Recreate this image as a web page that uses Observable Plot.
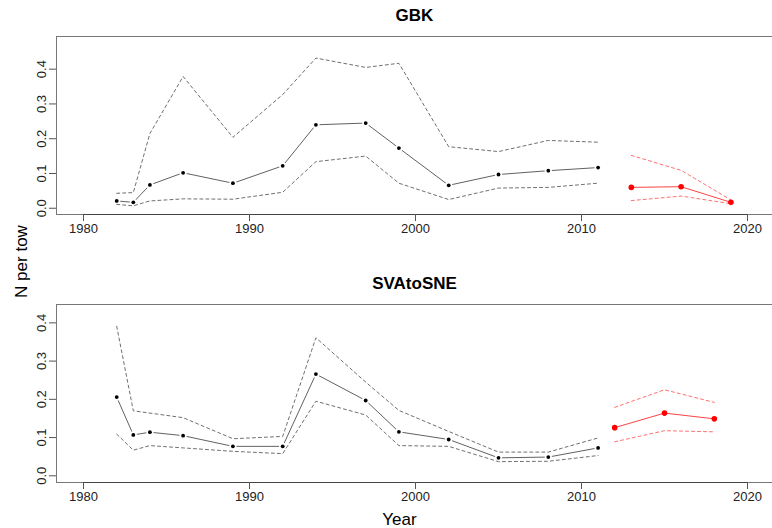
<!DOCTYPE html>
<html>
<head>
<meta charset="utf-8">
<script src="https://cdn.jsdelivr.net/npm/d3@7"></script>
<script src="https://cdn.jsdelivr.net/npm/@observablehq/plot@0.6"></script>
<style>
  html, body { margin: 0; padding: 0; background: #fff; }
  #chart { position: relative; width: 772px; height: 528px; overflow: hidden; }
  #chart svg { display: block; }
</style>
</head>
<body>
<div id="chart"></div>
<script>
// ---- data ----
const panelTitles = ["GBK", "SVAtoSNE"];
const xTicks = [1980, 1990, 2000, 2010, 2020];
const yTicks = [0, 0.1, 0.2, 0.3, 0.4];

const oldYears = [1982, 1983, 1984, 1986, 1989, 1992, 1994, 1997, 1999, 2002, 2005, 2008, 2011];

const gbkMean  = [0.021, 0.017, 0.067, 0.102, 0.072, 0.122, 0.240, 0.245, 0.173, 0.066, 0.097, 0.108, 0.117];
const gbkUpper = [0.043, 0.045, 0.215, 0.379, 0.204, 0.327, 0.432, 0.405, 0.417, 0.177, 0.163, 0.195, 0.190];
const gbkLower = [0.011, 0.007, 0.021, 0.027, 0.026, 0.046, 0.134, 0.150, 0.072, 0.025, 0.058, 0.060, 0.072];
const gbkNewYears = [2013, 2016, 2019];
const gbkNewMean  = [0.060, 0.062, 0.017];
const gbkNewUpper = [0.152, 0.109, 0.024];
const gbkNewLower = [0.022, 0.035, 0.013];

const svaMean  = [0.206, 0.107, 0.114, 0.105, 0.077, 0.077, 0.266, 0.197, 0.115, 0.095, 0.047, 0.049, 0.073];
const svaUpper = [0.391, 0.170, 0.164, 0.152, 0.097, 0.103, 0.361, 0.245, 0.171, 0.116, 0.062, 0.062, 0.099];
const svaLower = [0.109, 0.067, 0.079, 0.073, 0.064, 0.058, 0.195, 0.159, 0.079, 0.077, 0.037, 0.038, 0.053];
const svaNewYears = [2012, 2015, 2018];
const svaNewMean  = [0.126, 0.164, 0.149];
const svaNewUpper = [0.179, 0.225, 0.192];
const svaNewLower = [0.089, 0.118, 0.115];

const table = (years, vals) => years.map((x, i) => ({x, y: vals[i]}));

const FONT = "'Liberation Sans', Arial, Helvetica, sans-serif";
const XDOMAIN = [1978.373, 2021.506];

function panel({title, yDomain, marginTop, marginBottom, mean, upper, lower, nMean, nUpper, nLower, nYears, extra}) {
  const oldMean = table(oldYears, mean);
  const oldUp = table(oldYears, upper);
  const oldLo = table(oldYears, lower);
  const nM = table(nYears, nMean);
  const nU = table(nYears, nUpper);
  const nL = table(nYears, nLower);
  return Plot.plot({
    width: 772,
    height: 264,
    marginLeft: 56,
    marginRight: 0,
    marginTop,
    marginBottom,
    style: {fontFamily: FONT, fontSize: "13px", overflow: "visible", background: "#fff"},
    x: {domain: XDOMAIN},
    y: {domain: yDomain},
    marks: [
      Plot.frame({stroke: "#777", strokeWidth: 1}),
      Plot.ruleY([yDomain[0]], {x1: 1980, x2: 2020, stroke: "#444", strokeWidth: 1}),
      Plot.axisX({ticks: xTicks, tickFormat: d => String(d), tickSize: 7, tickPadding: 2, label: null, stroke: "#555", fill: "#222", fontSize: 13}),
      Plot.axisY({ticks: yTicks, tickSize: 7, tickFormat: () => "", label: null, stroke: "#555"}),
      Plot.text(yTicks, {y: d => d, text: d => d3.format(".1f")(d), frameAnchor: "left", dx: -11,
        rotate: -90, textAnchor: "middle", lineAnchor: "bottom", fontSize: 13, fill: "#222"}),
      // main series (type "b": line with gaps at points)
      Plot.line(oldMean, {x: "x", y: "y", stroke: "#444", strokeWidth: 0.85}),
      Plot.dot(oldMean, {x: "x", y: "y", r: 1.9, fill: "#000", stroke: "#fff", strokeWidth: 3.5, paintOrder: "stroke"}),
      Plot.line(oldUp, {x: "x", y: "y", stroke: "#555", strokeWidth: 0.85, strokeDasharray: "3,3"}),
      Plot.line(oldLo, {x: "x", y: "y", stroke: "#555", strokeWidth: 0.85, strokeDasharray: "3,3"}),
      // recent series in red
      Plot.line(nU, {x: "x", y: "y", stroke: "#ff5555", strokeWidth: 0.85, strokeDasharray: "3,3"}),
      Plot.line(nL, {x: "x", y: "y", stroke: "#ff5555", strokeWidth: 0.85, strokeDasharray: "3,3"}),
      Plot.line(nM, {x: "x", y: "y", stroke: "#ff4444", strokeWidth: 1}),
      Plot.dot(nM, {x: "x", y: "y", r: 2.8, fill: "#ff0000", stroke: "none"}),
      Plot.text([title], {frameAnchor: "top", dy: -15.5, lineAnchor: "bottom", fontSize: 17, fontWeight: "bold", fill: "#000"}),
      ...(extra || [])
    ]
  });
}

const chartEl = document.getElementById("chart");

const topPanel = panel({
  title: panelTitles[0], yDomain: [-0.018, 0.494], marginTop: 36, marginBottom: 50,
  mean: gbkMean, upper: gbkUpper, lower: gbkLower,
  nYears: gbkNewYears, nMean: gbkNewMean, nUpper: gbkNewUpper, nLower: gbkNewLower,
  extra: [
    Plot.text(["N per tow"], {frameAnchor: "left", dx: -30, dy: 136, rotate: -90,
      textAnchor: "middle", lineAnchor: "bottom", fontSize: 17, fill: "#000"})
  ]
});
const bottomPanel = panel({
  title: panelTitles[1], yDomain: [-0.0175, 0.448], marginTop: 40, marginBottom: 46,
  mean: svaMean, upper: svaUpper, lower: svaLower,
  nYears: svaNewYears, nMean: svaNewMean, nUpper: svaNewUpper, nLower: svaNewLower,
  extra: [
    Plot.text(["Year"], {frameAnchor: "bottom", dx: -15, dy: 42.5, lineAnchor: "bottom", fontSize: 17, fill: "#000"})
  ]
});
chartEl.appendChild(topPanel);
chartEl.appendChild(bottomPanel);
</script>
</body>
</html>
